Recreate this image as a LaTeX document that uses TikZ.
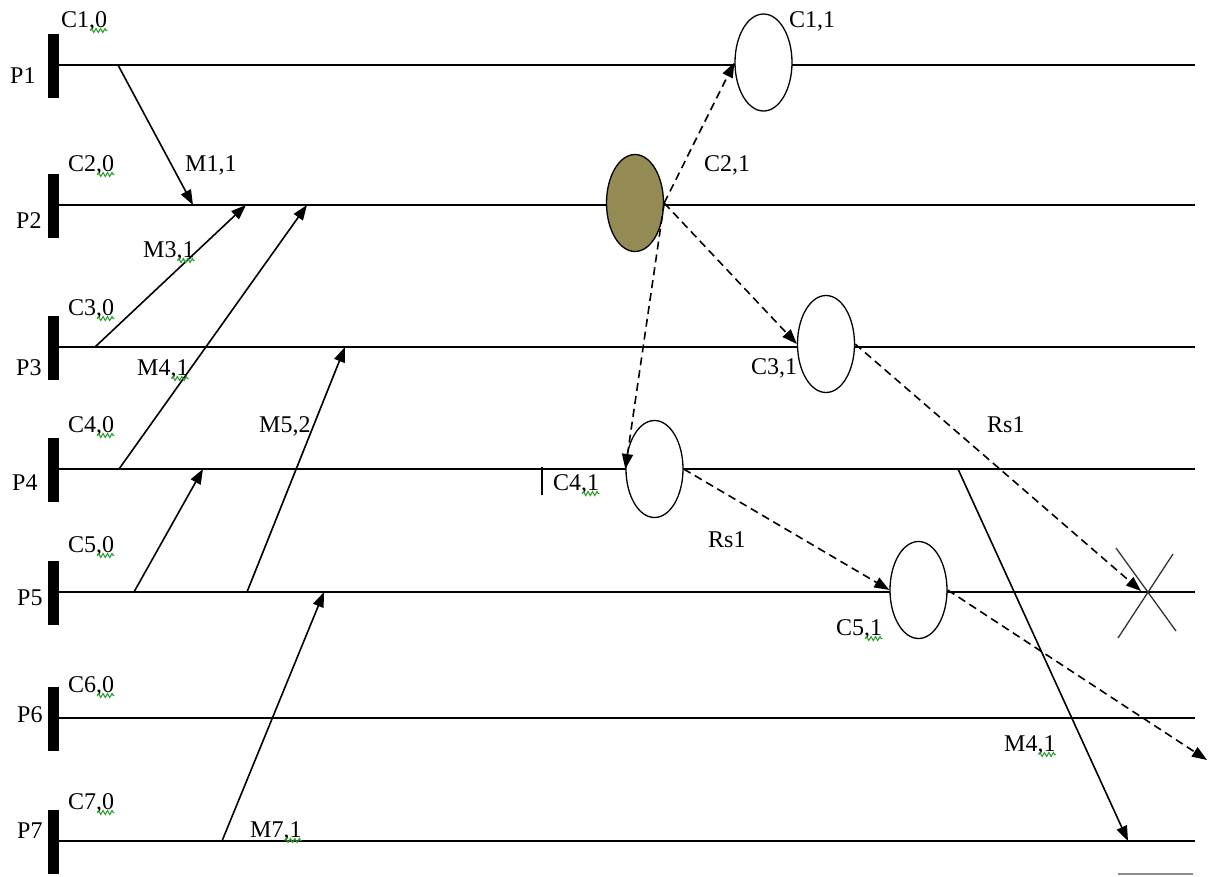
\documentclass[tikz,border=0pt]{standalone}
\usepackage{fontspec}
\setmainfont{Liberation Serif}
\usetikzlibrary{arrows.meta,shapes.geometric,decorations.pathmorphing}
\definecolor{olivefill}{HTML}{948A54}
\definecolor{squiggle}{HTML}{2FA02F}
\newcommand\wavy[1]{\draw[squig] ([xshift=-17pt,yshift=-3.5pt]#1.base east) -- ([yshift=-3.5pt]#1.base east);}
\begin{document}
\begin{tikzpicture}[x=1pt,y=-1pt,
  lifeline/.style={line width=1.8pt},
  procbar/.style={rectangle,fill=black,draw=none,minimum width=11pt,minimum height=64pt,inner sep=0pt},
  lbl/.style={inner sep=0pt,anchor=base west,font=\fontsize{24}{26}\selectfont},
  msg/.style={line width=1.6pt,-{Triangle[length=15pt,width=11pt]}},
  rmsg/.style={msg,dash pattern=on 8pt off 5pt},
  ckpt/.style={ellipse,draw,line width=1.3pt,fill=white,minimum width=57pt,minimum height=97pt,inner sep=0pt},
  squig/.style={draw=squiggle,line width=1.1pt,decorate,decoration={zigzag,segment length=4.5pt,amplitude=2pt}},
]
\useasboundingbox (0,0) rectangle (1208,876);

% process lifelines with their start bars
\foreach \i/\y in {1/65,2/205,3/347,4/469,5/592,6/718,7/841}{
  \node[procbar] (bar\i) at (53.5,\y+1) {};
  \coordinate (e\i) at (1195,\y);
  \draw[lifeline] (bar\i.east |- e\i) -- (e\i);
}

% process names
\node[lbl] (p1) at (10,83) {P1};
\node[lbl] (p2) at (16,228) {P2};
\node[lbl] (p3) at (16,375) {P3};
\node[lbl] (p4) at (12,490) {P4};
\node[lbl] (p5) at (17,605) {P5};
\node[lbl] (p6) at (17,722) {P6};
\node[lbl] (p7) at (17,838) {P7};

% initial checkpoints
\node[lbl] (c10) at (61,27) {C1,0};
\node[lbl] (c20) at (68,171) {C2,0};
\node[lbl] (c30) at (68,315) {C3,0};
\node[lbl] (c40) at (68,432) {C4,0};
\node[lbl] (c50) at (68,552) {C5,0};
\node[lbl] (c60) at (68,692) {C6,0};
\node[lbl] (c70) at (68,809) {C7,0};
\foreach \n in {c10,c20,c30,c40,c50,c60,c70}{\wavy{\n}}

% message end points
\coordinate (m1s) at (118,65);   \coordinate (m1e) at (193,205);
\coordinate (m3s) at (95,347);   \coordinate (m3e) at (246,205);
\coordinate (m4s) at (119,469);  \coordinate (m4e) at (307,205);
\coordinate (m5as) at (134,592); \coordinate (m5ae) at (203,469);
\coordinate (m5s) at (247,592);  \coordinate (m5e) at (345,347);
\coordinate (m7s) at (222,841);  \coordinate (m7e) at (324,592);
\coordinate (m4bs) at (958,469); \coordinate (m4be) at (1128,841);

\draw[msg] (m1s) -- (m1e);
\draw[msg] (m3s) -- (m3e);
\draw[msg] (m4s) -- (m4e);
\draw[msg] (m5as) -- (m5ae);
\draw[msg] (m5s) -- (m5e);
\draw[msg] (m7s) -- (m7e);
\draw[msg] (m4bs) -- (m4be);

% message labels
\node[lbl] (lm11) at (185,171) {M1,1};
\node[lbl] (lm31) at (143,257) {M3,1};
\node[lbl] (lm41) at (137,375) {M4,1};
\node[lbl] (lm52) at (259,432) {M5,2};
\node[lbl] (lm71) at (250,837) {M7,1};
\node[lbl] (lm41b) at (1004,751) {M4,1};
\foreach \n in {lm31,lm41,lm71,lm41b}{\wavy{\n}}

% checkpoints of the recovery line
\node[ckpt] (c11) at (763.5,62.5) {};
\node[ckpt,fill=olivefill] (c21) at (635,203) {};
\node[ckpt] (c31) at (826,344) {};
\node[ckpt] (c41) at (654.5,469) {};
\node[ckpt] (c51) at (918.5,590) {};

\node[lbl] (lc11) at (789,27) {C1,1};
\node[lbl] (lc21) at (704,171) {C2,1};
\node[lbl] (lc31) at (751,374) {C3,1};
\node[lbl] (lc41) at (553,490) {C4,1};
\node[lbl] (lc51) at (836,635) {C5,1};
\foreach \n in {lc41,lc51}{\wavy{\n}}
\draw[line width=2.8pt] (542,467) -- (542,495);

% rollback requests
\coordinate (xc) at (1141,591);
\coordinate (rsend) at (1207,760);
\draw[rmsg] (c21.east) -- (c11.west);
\draw[rmsg] (c21.east) -- (c31.west);
\draw[rmsg] (c21.east) -- (c41.west);
\draw[rmsg] (c31.east) -- (xc);
\draw[rmsg] (c41.east) -- (c51.west);
\draw[rmsg] (c51.east) -- (rsend);

\node[lbl] (rs1a) at (987,432) {Rs1};
\node[lbl] (rs1b) at (708,547) {Rs1};

% discarded request
\draw[line width=1.3pt,black!80] (1116,548) -- (1176,631);
\draw[line width=1.3pt,black!80] (1118,638) -- (1173,554);

\draw[line width=1.8pt,black!45] (1118,874) -- (1193,874);
\end{tikzpicture}
\end{document}
